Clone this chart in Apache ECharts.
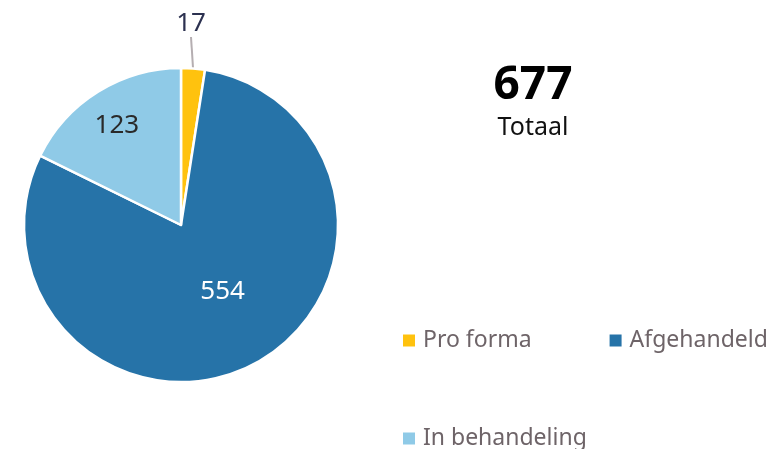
<!DOCTYPE html>
<html>
<head>
<meta charset="utf-8">
<script src="https://cdn.jsdelivr.net/npm/echarts@6/dist/echarts.min.js"></script>
<style>
  html, body { margin: 0; padding: 0; background: #fff; }
  #chart { width: 771px; height: 449px; }
</style>
</head>
<body>
<div id="chart"></div>
<script>
// gegevens
var categories = ['Pro forma', 'Afgehandeld', 'In behandeling'];
var values = [17, 554, 123];
var colors = ['#FFC20E', '#2673A8', '#8FCAE7'];
var total = 677;

var font = '"Noto Sans", sans-serif';

var myChart = echarts.init(document.getElementById('chart'));

var pieData = categories.map(function (name, i) {
    return { name: name, value: values[i], itemStyle: { color: colors[i] } };
});
// label per segment
pieData[0].label = { position: 'outside', color: '#2C3150' };
pieData[1].label = { position: 'inside', color: '#ffffff' };
pieData[2].label = { position: 'inside', color: '#2A2A2A' };

var legendText = { fontFamily: font, fontSize: 23, color: '#6E6468', padding: [0, 0, 0, 2] };

var option = {
    animation: false,
    title: {
        text: String(total),
        subtext: 'Totaal',
        left: 528,
        top: 58,
        textAlign: 'center',
        itemGap: 6,
        textStyle: { fontFamily: font, fontSize: 46, fontWeight: 'bold', color: '#000' },
        subtextStyle: { fontFamily: font, fontSize: 25, color: '#111' }
    },
    legend: [{
        left: 401,
        top: 329,
        width: 371,
        padding: 0,
        data: ['Pro forma', 'Afgehandeld'],
        icon: 'rect',
        itemWidth: 14,
        itemHeight: 14,
        itemGap: 76,
        textStyle: legendText
    }, {
        left: 401,
        top: 427,
        padding: 0,
        data: ['In behandeling'],
        icon: 'rect',
        itemWidth: 14,
        itemHeight: 14,
        textStyle: legendText
    }],
    series: [{
        type: 'pie',
        center: [181, 225],
        radius: [0, 157],
        startAngle: 90,
        clockwise: true,
        itemStyle: { borderColor: '#fff', borderWidth: 2.5 },
        label: {
            show: true,
            formatter: '{c}',
            fontFamily: font,
            fontSize: 26
        },
        labelLine: {
            show: true,
            length: 24,
            length2: 0,
            lineStyle: { color: '#B5AEB1', width: 2 }
        },
        labelLayout: function (p) {
            if (p.dataIndex === 0) {
                return { x: 191, y: 24, align: 'center', verticalAlign: 'middle' };
            }
            if (p.dataIndex === 1) {
                return { dx: 4, dy: -6 };
            }
            return { dx: -21, dy: -30 };
        },
        data: pieData
    }]
};
myChart.setOption(option);
</script>
</body>
</html>
